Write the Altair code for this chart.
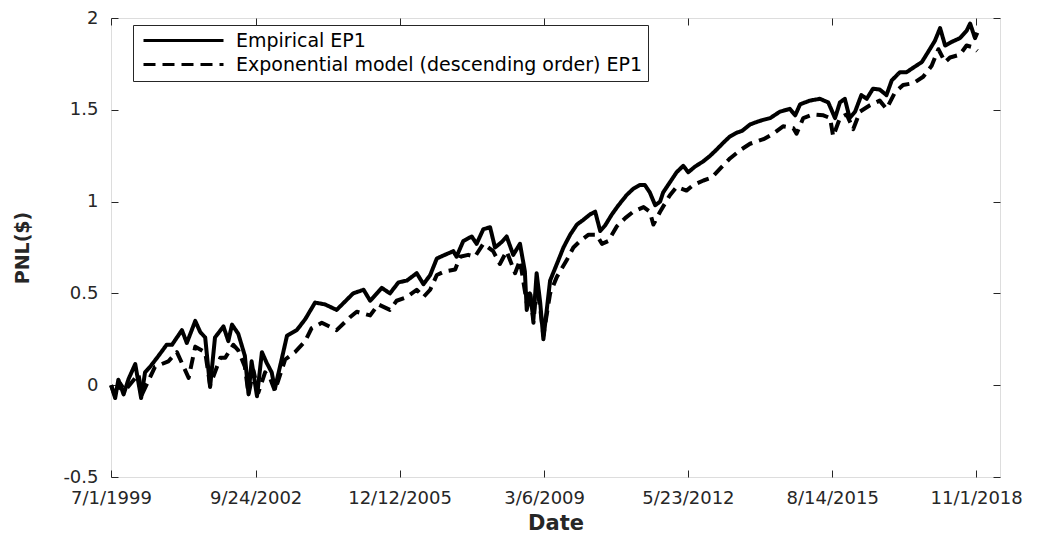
import altair as alt
import pandas as pd

# ---- data (dates as decimal years) ----
series_names = ["Empirical EP1", "Exponential model (descending order) EP1"]

emp_year = [1999.50, 1999.59, 1999.66, 1999.78, 1999.89, 2000.04, 2000.17, 2000.26, 2000.37, 2000.56,
            2000.74, 2000.86, 2001.08, 2001.19, 2001.38, 2001.49, 2001.60, 2001.71, 2001.82, 2002.01,
            2002.12, 2002.20, 2002.34, 2002.49, 2002.57, 2002.64, 2002.76, 2002.87, 2002.98, 2003.09,
            2003.16, 2003.31, 2003.43, 2003.65, 2003.84, 2004.06, 2004.28, 2004.54, 2004.91, 2005.14,
            2005.29, 2005.55, 2005.73, 2005.92, 2006.11, 2006.33, 2006.48, 2006.63, 2006.78, 2006.96,
            2007.15, 2007.22, 2007.37, 2007.56, 2007.67, 2007.82, 2007.97, 2008.08, 2008.23, 2008.34,
            2008.49, 2008.64, 2008.75, 2008.79, 2008.86, 2008.94, 2009.01, 2009.09, 2009.16, 2009.31,
            2009.46, 2009.61, 2009.76, 2009.91, 2010.05, 2010.20, 2010.32, 2010.43, 2010.54, 2010.69,
            2010.84, 2011.02, 2011.17, 2011.32, 2011.43, 2011.54, 2011.66, 2011.77, 2011.84, 2011.99,
            2012.14, 2012.29, 2012.40, 2012.55, 2012.74, 2012.89, 2013.04, 2013.18, 2013.33, 2013.48,
            2013.60, 2013.78, 2014.00, 2014.23, 2014.45, 2014.67, 2014.79, 2014.90, 2015.12, 2015.34,
            2015.53, 2015.68, 2015.79, 2015.90, 2016.01, 2016.13, 2016.27, 2016.39, 2016.53, 2016.68,
            2016.83, 2016.95, 2017.13, 2017.28, 2017.43, 2017.62, 2017.76, 2017.91, 2018.03, 2018.14,
            2018.29, 2018.47, 2018.62, 2018.70, 2018.81, 2018.86]
emp_pnl = [0.00, -0.07, 0.03, -0.05, 0.035, 0.115, -0.07, 0.07, 0.10, 0.16,
           0.22, 0.22, 0.30, 0.23, 0.35, 0.29, 0.26, -0.01, 0.26, 0.32,
           0.24, 0.33, 0.28, 0.16, -0.05, 0.13, -0.06, 0.18, 0.12, 0.07,
           -0.02, 0.14, 0.27, 0.30, 0.36, 0.45, 0.44, 0.41, 0.50, 0.52,
           0.46, 0.53, 0.50, 0.56, 0.57, 0.61, 0.55, 0.60, 0.69, 0.71,
           0.73, 0.70, 0.785, 0.81, 0.77, 0.85, 0.86, 0.75, 0.78, 0.81,
           0.71, 0.77, 0.62, 0.41, 0.50, 0.36, 0.61, 0.45, 0.25, 0.57,
           0.66, 0.75, 0.82, 0.875, 0.90, 0.93, 0.945, 0.84, 0.87, 0.93,
           0.98, 1.035, 1.07, 1.09, 1.09, 1.05, 0.98, 1.00, 1.05, 1.105,
           1.16, 1.195, 1.16, 1.19, 1.22, 1.25, 1.285, 1.32, 1.355, 1.375,
           1.385, 1.42, 1.44, 1.455, 1.49, 1.505, 1.47, 1.53, 1.55, 1.56,
           1.54, 1.455, 1.54, 1.56, 1.455, 1.49, 1.58, 1.56, 1.615, 1.61,
           1.58, 1.66, 1.705, 1.705, 1.73, 1.76, 1.815, 1.875, 1.945, 1.85,
           1.87, 1.89, 1.93, 1.97, 1.89, 1.92]

exp_year = [1999.50, 1999.59, 1999.70, 1999.81, 2000.11, 2000.19, 2000.48, 2000.78, 2000.97, 2001.23,
            2001.38, 2001.60, 2001.71, 2001.94, 2002.05, 2002.23, 2002.34, 2002.49, 2002.57, 2002.68,
            2002.79, 2002.94, 2003.05, 2003.16, 2003.39, 2003.61, 2003.84, 2003.98, 2004.21, 2004.54,
            2004.84, 2004.99, 2005.29, 2005.47, 2005.73, 2005.88, 2006.11, 2006.33, 2006.48, 2006.63,
            2006.78, 2006.96, 2007.19, 2007.30, 2007.48, 2007.63, 2007.82, 2008.04, 2008.19, 2008.34,
            2008.53, 2008.64, 2008.79, 2008.86, 2008.94, 2009.01, 2009.09, 2009.16, 2009.31, 2009.46,
            2009.68, 2009.83, 2009.98, 2010.17, 2010.35, 2010.47, 2010.61, 2010.80, 2010.99, 2011.17,
            2011.40, 2011.54, 2011.62, 2011.77, 2011.99, 2012.14, 2012.36, 2012.51, 2012.74, 2012.92,
            2013.11, 2013.33, 2013.56, 2013.78, 2014.08, 2014.30, 2014.52, 2014.75, 2014.82, 2014.97,
            2015.19, 2015.42, 2015.57, 2015.64, 2015.79, 2015.94, 2016.09, 2016.24, 2016.46, 2016.68,
            2016.83, 2017.02, 2017.20, 2017.43, 2017.65, 2017.84, 2017.99, 2018.14, 2018.25, 2018.47,
            2018.62, 2018.77, 2018.86]
exp_pnl = [0.00, -0.06, 0.01, -0.03, 0.06, -0.05, 0.10, 0.13, 0.18, 0.04,
           0.21, 0.18, 0.00, 0.15, 0.15, 0.22, 0.19, 0.10, -0.05, 0.08,
           -0.04, 0.07, 0.04, -0.03, 0.14, 0.18, 0.24, 0.31, 0.34, 0.30,
           0.37, 0.40, 0.38, 0.44, 0.41, 0.46, 0.48, 0.52, 0.48, 0.52,
           0.60, 0.62, 0.63, 0.70, 0.71, 0.70, 0.77, 0.73, 0.66, 0.73,
           0.61, 0.68, 0.45, 0.52, 0.34, 0.55, 0.42, 0.27, 0.50, 0.59,
           0.68, 0.75, 0.785, 0.82, 0.82, 0.77, 0.785, 0.865, 0.91, 0.945,
           0.97, 0.945, 0.875, 0.945, 1.035, 1.08, 1.06, 1.09, 1.115, 1.13,
           1.18, 1.235, 1.28, 1.315, 1.34, 1.37, 1.41, 1.40, 1.37, 1.455,
           1.475, 1.47, 1.455, 1.355, 1.455, 1.475, 1.395, 1.49, 1.525, 1.55,
           1.505, 1.595, 1.635, 1.645, 1.68, 1.74, 1.83, 1.76, 1.785, 1.80,
           1.85, 1.84, 1.82]

# tick labels
x_tick_dates = [(1999, 7, 1), (2002, 9, 24), (2005, 12, 12), (2009, 3, 6),
                (2012, 5, 23), (2015, 8, 14), (2018, 11, 1)]
y_ticks = [-0.5, 0, 0.5, 1, 1.5, 2]
x_domain_dates = [(1999, 7, 1), (2019, 5, 15)]
y_domain = [-0.5, 2]


def dec_to_iso(y):
    yr = int(y)
    frac = y - yr
    ts = pd.Timestamp(year=yr, month=1, day=1) + pd.Timedelta(days=frac * 365.25)
    return ts.strftime("%Y-%m-%d")


rows = []
for yv, pv in zip(emp_year, emp_pnl):
    rows.append({"date": dec_to_iso(yv), "pnl": pv, "series": series_names[0]})
for yv, pv in zip(exp_year, exp_pnl):
    rows.append({"date": dec_to_iso(yv), "pnl": pv, "series": series_names[1]})
df = pd.DataFrame(rows)

W, H = 889, 459
AX = "#262626"
FONT = "DejaVu Sans"


def dt(t):
    return alt.DateTime(year=t[0], month=t[1], date=t[2], utc=True)


x_vals = [dt(t) for t in x_tick_dates]
xscale = alt.Scale(type="utc", domain=[dt(t) for t in x_domain_dates])
yscale = alt.Scale(domain=y_domain, nice=False, zero=False)

tick_only = dict(labels=False, domain=False, grid=False, ticks=True, tickSize=7,
                 tickColor=AX, tickWidth=1, title=None)

lines = alt.Chart(df).mark_line(color="black", strokeWidth=4, strokeJoin="round").encode(
    x=alt.X("date:T", scale=xscale,
            axis=alt.Axis(orient="bottom", values=x_vals,
                          labelExpr="utcFormat(datum.value, '%-m/%-d/%Y')",
                          ticks=False, domain=False, grid=False, labelFlush=False,
                          labelOverlap=False, labelPadding=12, labelFontSize=18,
                          labelColor=AX, labelFont=FONT,
                          title="Date", titleFont=FONT, titleFontSize=21,
                          titleFontWeight="bold", titleColor=AX,
                          titleX=W / 2, titleY=52, titleBaseline="alphabetic",
                          titleAlign="center")),
    y=alt.Y("pnl:Q", scale=yscale,
            axis=alt.Axis(orient="left", values=y_ticks,
                          labelExpr="'' + datum.value",
                          ticks=False, domain=False, grid=False,
                          labelPadding=13, labelFontSize=18, labelColor=AX,
                          labelFont=FONT,
                          title="PNL($)", titleFont=FONT, titleFontSize=19,
                          titleFontWeight="bold", titleColor=AX,
                          titleX=-89, titleY=H / 2, titleAngle=270,
                          titleBaseline="middle", titleAlign="center")),
    strokeDash=alt.StrokeDash(
        "series:N",
        scale=alt.Scale(domain=series_names, range=[[1, 0], [12, 7]]),
        legend=alt.Legend(title=None, orient="none", legendX=22, legendY=7,
                          direction="vertical", padding=6, strokeColor=AX,
                          fillColor="white", cornerRadius=0,
                          symbolType="M-1,0H15", symbolSize=100,
                          symbolStrokeWidth=3, symbolStrokeColor="black",
                          symbolFillColor="transparent",
                          labelFont=FONT, labelFontSize=19, labelColor="black",
                          labelOffset=78, labelLimit=700, rowPadding=4)),
)

ticks_a = alt.Chart(df).mark_point(opacity=0).encode(
    x=alt.X("date:T", scale=xscale,
            axis=alt.Axis(orient="top", offset=-H, values=x_vals, **tick_only)),
    y=alt.Y("pnl:Q", scale=yscale,
            axis=alt.Axis(orient="right", offset=-W, values=y_ticks, **tick_only)),
)

ticks_b = alt.Chart(df).mark_point(opacity=0).encode(
    x=alt.X("date:T", scale=xscale,
            axis=alt.Axis(orient="bottom", offset=-H, values=x_vals, **tick_only)),
    y=alt.Y("pnl:Q", scale=yscale,
            axis=alt.Axis(orient="left", offset=-W, values=y_ticks, **tick_only)),
)

chart = (
    alt.layer(lines, ticks_a, ticks_b)
    .resolve_axis(x="independent", y="independent")
    .properties(width=W, height=H,
                autosize=alt.AutoSizeParams(type="none"),
                padding={"left": 103, "top": 10, "right": 34, "bottom": 56})
    .configure_view(stroke=AX, strokeWidth=1)
    .configure(background="white")
)

chart.save("out.html", embed_options={"renderer": "svg", "actions": False})
